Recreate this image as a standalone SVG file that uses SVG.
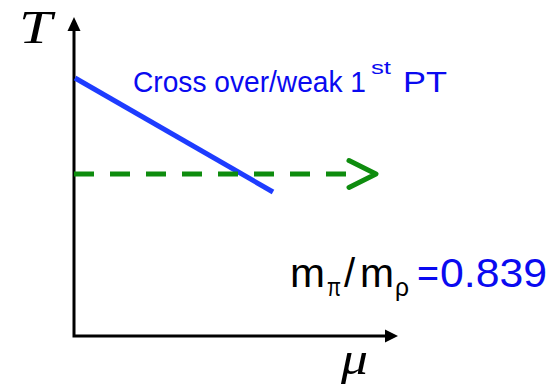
<svg xmlns="http://www.w3.org/2000/svg" width="552" height="385" viewBox="0 0 552 385">
<style>
.axis{stroke:#000;stroke-width:3;fill:none}
.ahead{fill:#000}
.serif{font-family:"Liberation Serif","DejaVu Serif",serif;font-style:italic;fill:#000}
.sans{font-family:"Liberation Sans",Arial,sans-serif}
.blue{fill:#0a0af0}
.green{stroke:#0e8c0e;stroke-width:5;fill:none}
</style>
<rect width="552" height="385" fill="#fff"/>
<g id="connectors">
  <g id="axes">
    <polyline class="axis" points="74,29 74,336 386,336"/>
    <polygon class="ahead" points="74,17 67.5,31 80.5,31"/>
    <polygon class="ahead" points="398,336 385,329.5 385,342.5"/>
  </g>
  <line id="crossover-line" x1="75" y1="78" x2="273" y2="192" stroke="#1e3cff" stroke-width="5"/>
  <g id="dashed-arrow">
    <line class="green" x1="74" y1="174" x2="348" y2="174" stroke-dasharray="20 16"/>
    <polyline class="green" points="349,160.5 376,174 349,187.5" stroke-linecap="round" stroke-linejoin="round"/>
  </g>
</g>
<g id="label-T"><text class="serif" x="19" y="43" font-size="47" textLength="33" lengthAdjust="spacingAndGlyphs">T</text></g>
<g id="label-mu"><text class="serif" x="341" y="374" font-size="46" textLength="27" lengthAdjust="spacingAndGlyphs">μ</text></g>
<g id="label-crossover">
  <text class="sans blue" x="133" y="92" font-size="29" textLength="233" lengthAdjust="spacingAndGlyphs">Cross over/weak 1</text>
  <text class="sans blue" x="371" y="74" font-size="19" textLength="20" lengthAdjust="spacingAndGlyphs">st</text>
  <text class="sans blue" x="403" y="92" font-size="30" textLength="44" lengthAdjust="spacingAndGlyphs">PT</text>
</g>
<g id="label-ratio">
  <text class="sans" y="287" font-size="40" fill="#000"><tspan x="290" textLength="35" lengthAdjust="spacingAndGlyphs">m</tspan><tspan x="327" y="296" font-size="26" textLength="14" lengthAdjust="spacingAndGlyphs">π</tspan><tspan x="344" y="287">/</tspan><tspan x="360" textLength="34" lengthAdjust="spacingAndGlyphs">m</tspan><tspan x="395" y="296" font-size="26" textLength="14" lengthAdjust="spacingAndGlyphs">ρ</tspan><tspan class="blue" x="417" y="287" textLength="22" lengthAdjust="spacingAndGlyphs">=</tspan><tspan class="blue" x="440" textLength="107" lengthAdjust="spacingAndGlyphs">0.839</tspan></text>
</g>
</svg>
